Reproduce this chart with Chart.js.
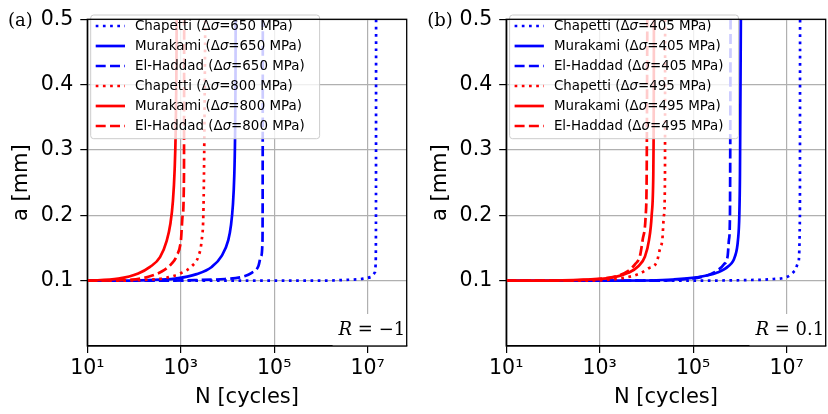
<!DOCTYPE html>
<html>
<head>
<meta charset="utf-8">
<script src="https://cdn.jsdelivr.net/npm/chart.js@4.4.1/dist/chart.umd.min.js"></script>
<style>
  html, body { margin: 0; padding: 0; background: #fff; }
  #wrap { display: flex; width: 828px; height: 414px; }
  canvas { display: block; }
</style>
</head>
<body>
<div id="wrap">
  <canvas id="chartA" width="414" height="414"></canvas>
  <canvas id="chartB" width="414" height="414"></canvas>
</div>
<script>
// axis ticks
const xTicks = [1e1, 1e3, 1e5, 1e7]
const xTickLabels = ['10¹', '10³', '10⁵', '10⁷']
const yTicks = [0.1, 0.2, 0.3, 0.4, 0.5]
const xMin = 10
const xMax = 6.84e7

const models = ['Chapetti', 'Murakami', 'El-Haddad']

// panel (a), R = -1
const stressA = [650, 800]
const chapetti650N = [10, 1e6, 3.55e6, 8.07e6, 1.16e7, 1.435e7, 1.48e7, 1.505e7, 1.514e7]
const chapetti650a = [0.100, 0.100, 0.1012, 0.103, 0.1055, 0.113, 0.125, 0.200, 0.500]
const murakami650N = [10, 32, 204, 753, 2190, 4590, 7520, 10400, 11885, 13030, 13960, 14520, 14830, 14960]
const murakami650a = [0.100, 0.100, 0.1008, 0.103, 0.110, 0.121, 0.138, 0.162, 0.185, 0.215, 0.260, 0.320, 0.400, 0.500]
const elhaddad650N = [10, 316, 1995, 8850, 18500, 33000, 45700, 52100, 56200, 56600, 57000]
const elhaddad650a = [0.100, 0.100, 0.1008, 0.1025, 0.105, 0.112, 0.122, 0.137, 0.163, 0.250, 0.500]
const chapetti800N = [10, 50, 172, 460, 1047, 1714, 2377, 2805, 3040, 3140, 3350]
const chapetti800a = [0.100, 0.100, 0.1012, 0.104, 0.112, 0.122, 0.137, 0.162, 0.200, 0.263, 0.500]
const murakami800N = [10, 46, 123, 220, 360, 500, 600, 680, 740, 780, 805, 818]
const murakami800a = [0.100, 0.103, 0.111, 0.121, 0.136, 0.161, 0.187, 0.222, 0.270, 0.330, 0.410, 0.500]
const elhaddad800N = [10, 89, 202, 391, 618, 818, 1012, 1099, 1172, 1183]
const elhaddad800a = [0.100, 0.1015, 0.106, 0.114, 0.125, 0.138, 0.163, 0.200, 0.263, 0.500]

// panel (b), R = 0.1
const stressB = [405, 495]
const chapetti405N = [10, 1e5, 1.175e6, 5.16e6, 1.08e7, 1.50e7, 1.77e7, 1.92e7, 1.936e7]
const chapetti405a = [0.100, 0.100, 0.1008, 0.1025, 0.1065, 0.115, 0.128, 0.200, 0.500]
const murakami405N = [10, 3160, 37500, 118600, 317700, 563600, 783400, 907800, 970500, 1002000, 1047000]
const murakami405a = [0.100, 0.100, 0.1018, 0.105, 0.112, 0.122, 0.137, 0.162, 0.200, 0.263, 0.500]
const elhaddad405N = [10, 10000, 72600, 178600, 317700, 456000, 547000, 583400, 612400, 631000]
const elhaddad405a = [0.100, 0.100, 0.1025, 0.107, 0.115, 0.125, 0.138, 0.163, 0.200, 0.500]
const chapetti495N = [10, 316, 1660, 3780, 7280, 10960, 16600, 19500, 21900, 23700, 24950, 25120]
const chapetti495a = [0.100, 0.100, 0.1015, 0.105, 0.111, 0.1186, 0.1285, 0.149, 0.163, 0.200, 0.263, 0.500]
const murakami495N = [10, 50, 447, 1950, 4090, 6700, 9310, 11350, 12940, 14030, 14220, 14350, 14450]
const murakami495a = [0.100, 0.100, 0.1015, 0.105, 0.112, 0.122, 0.137, 0.162, 0.200, 0.263, 0.310, 0.380, 0.500]
const elhaddad495N = [10, 100, 871, 2290, 4090, 5690, 7280, 8320, 9640, 10120, 10450]
const elhaddad495a = [0.100, 0.100, 0.1025, 0.107, 0.115, 0.125, 0.138, 0.163, 0.200, 0.263, 0.500]

const colors = ['#0000ff', '#ff0000']
const dashes = [[2.7, 4.5], [], [10, 4.3]]
const LW = 2.7
const sans = '"DejaVu Sans", sans-serif'
const serif = '"DejaVu Serif", serif'

const toPoints = (ns, as) => ns.map((n, i) => ({ x: n, y: as[i] }))

const buildDatasets = (stresses, series) => {
  const out = []
  stresses.forEach((s, si) => {
    series[si].forEach(([ns, as], mi) => {
      out.push({
        model: models[mi],
        stress: s,
        data: toPoints(ns, as),
        borderColor: colors[si],
        borderWidth: LW,
        borderDash: dashes[mi],
        borderCapStyle: 'butt',
        fill: false,
        pointRadius: 0,
        cubicInterpolationMode: 'monotone'
      })
    })
  })
  // later series on top, like the original plot
  out.forEach((d, i) => { d.order = out.length - i })
  return out
}

const datasetsA = buildDatasets(stressA, [
  [[chapetti650N, chapetti650a], [murakami650N, murakami650a], [elhaddad650N, elhaddad650a]],
  [[chapetti800N, chapetti800a], [murakami800N, murakami800a], [elhaddad800N, elhaddad800a]]
])
const datasetsB = buildDatasets(stressB, [
  [[chapetti405N, chapetti405a], [murakami405N, murakami405a], [elhaddad405N, elhaddad405a]],
  [[chapetti495N, chapetti495a], [murakami495N, murakami495a], [elhaddad495N, elhaddad495a]]
])

// draws text runs with different fonts, returns end x
const drawRuns = (ctx, x, y, runs, measureOnly) => {
  runs.forEach(r => {
    ctx.font = r.font
    if (!measureOnly) ctx.fillText(r.text, x, y)
    x += ctx.measureText(r.text).width
  })
  return x
}

const legendFont = '13.4px ' + sans
const legendItalic = 'italic 13.4px ' + sans
const labelRuns = ds => [
  { text: ds.model + ' (Δ', font: legendFont },
  { text: 'σ', font: legendItalic },
  { text: '=' + ds.stress + ' MPa)', font: legendFont }
]

const panelDecor = {
  id: 'panelDecor',
  afterDatasetsDraw(chart, args, opts) {
    const ctx = chart.ctx
    const area = chart.chartArea
    ctx.save()

    // R label with white box
    const rRuns = [
      { text: 'R', font: 'italic 18px ' + serif },
      { text: ' = ' + opts.rValue, font: '18px ' + serif }
    ]
    const rWidth = drawRuns(ctx, 0, 0, rRuns, true)
    const rx = area.right - 1.5 - rWidth
    ctx.fillStyle = '#fff'
    ctx.fillRect(rx - 6, area.bottom - 32, area.right - rx + 6, 32)
    ctx.fillStyle = '#000'
    ctx.textBaseline = 'alphabetic'
    drawRuns(ctx, rx, area.bottom - 11, rRuns)

    // legend inside the axes
    const dsets = chart.data.datasets
    ctx.textBaseline = 'middle'
    let maxW = 0
    dsets.forEach(ds => { maxW = Math.max(maxW, drawRuns(ctx, 0, 0, labelRuns(ds), true)) })
    const bx = area.left + 3.4
    const by = 15
    const bw = 44.3 + maxW + 15
    const bh = 123.7
    ctx.beginPath()
    ctx.roundRect(bx, by, bw, bh, 3)
    ctx.fillStyle = 'rgba(255,255,255,0.8)'
    ctx.fill()
    ctx.strokeStyle = '#cccccc'
    ctx.lineWidth = 1
    ctx.stroke()
    dsets.forEach((ds, i) => {
      const cy = 26 + i * 20
      ctx.beginPath()
      ctx.setLineDash(ds.borderDash)
      ctx.lineCap = 'butt'
      ctx.strokeStyle = ds.borderColor
      ctx.lineWidth = ds.borderWidth
      ctx.moveTo(bx + 5, cy)
      ctx.lineTo(bx + 34.3, cy)
      ctx.stroke()
      ctx.setLineDash([])
      ctx.fillStyle = '#000'
      drawRuns(ctx, bx + 44.3, cy + 0.5, labelRuns(ds))
    })
    ctx.restore()
  },
  afterDraw(chart, args, opts) {
    const ctx = chart.ctx
    const area = chart.chartArea
    ctx.save()
    // spines
    ctx.strokeStyle = '#000'
    ctx.lineWidth = 1.3
    ctx.strokeRect(area.left, area.top, area.right - area.left, area.bottom - area.top)
    // panel tag
    ctx.fillStyle = '#000'
    ctx.font = '18px ' + serif
    ctx.textBaseline = 'alphabetic'
    ctx.fillText(opts.tag, opts.tagX, 26)
    ctx.restore()
  }
}

const makeChart = (id, datasets, cfg) => new Chart(document.getElementById(id), {
  type: 'line',
  data: { datasets },
  plugins: [panelDecor],
  options: {
    responsive: false,
    animation: false,
    devicePixelRatio: 1,
    layout: { padding: { left: 0, right: cfg.padRight, top: 12, bottom: 0 } },
    plugins: {
      legend: { display: false },
      tooltip: { enabled: false },
      panelDecor: { tag: cfg.tag, tagX: cfg.tagX, rValue: cfg.rValue }
    },
    scales: {
      x: {
        type: 'logarithmic',
        min: xMin,
        max: xMax,
        afterBuildTicks: s => { s.ticks = xTicks.map(v => ({ value: v })) },
        afterFit: s => { s.height = 68 },
        ticks: {
          autoSkip: false,
          maxRotation: 0,
          padding: 3,
          color: '#000',
          font: { family: sans, size: 20.5 },
          callback: (v, i) => xTickLabels[i]
        },
        grid: { color: '#b0b0b0', lineWidth: 1.2, tickColor: '#000', tickLength: 7 },
        border: { display: true, color: '#000', width: 1.3 },
        title: {
          display: true,
          text: 'N [cycles]',
          color: '#000',
          font: { family: sans, size: 21 },
          padding: { top: 0, bottom: 4 }
        }
      },
      y: {
        min: 0,
        max: 0.5,
        afterBuildTicks: s => { s.ticks = yTicks.map(v => ({ value: v })) },
        afterFit: s => { s.width = cfg.yWidth },
        ticks: {
          padding: 7,
          color: '#000',
          font: { family: sans, size: 20.5 },
          callback: v => v.toFixed(1)
        },
        grid: { color: '#b0b0b0', lineWidth: 1.2, tickColor: '#000', tickLength: 7 },
        border: { display: true, color: '#000', width: 1.3 },
        title: {
          display: true,
          text: 'a [mm]',
          color: '#000',
          font: { family: sans, size: 21 },
          padding: { top: cfg.yTitlePad + 1.5, bottom: 0 }
        }
      }
    }
  }
})

makeChart('chartA', datasetsA, { yWidth: 87.3, padRight: 7.3, yTitlePad: 7.4, tag: '(a)', tagX: 8, rValue: '−1' })
makeChart('chartB', datasetsB, { yWidth: 92.2, padRight: 2.3, yTitlePad: 12.4, tag: '(b)', tagX: 13.3, rValue: '0.1' })
</script>
</body>
</html>
